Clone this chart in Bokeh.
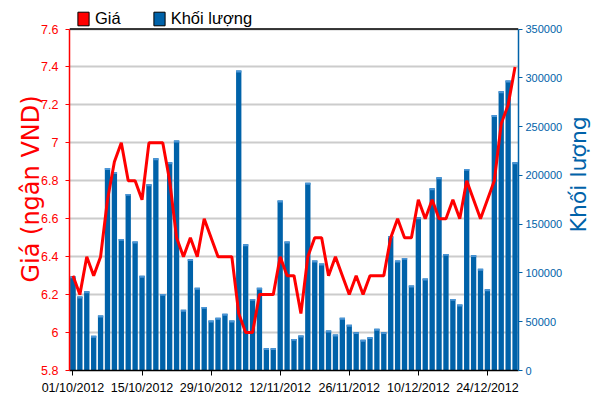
import math
import pandas as pd
from bokeh.plotting import figure
from bokeh.layouts import row
from bokeh.models import (Range1d, LinearAxis, FixedTicker, NumeralTickFormatter,
                          Legend, LegendItem, Span, ColumnDataSource, CDSView,
                          IndexFilter, Label)
from bokeh.embed import file_html
from bokeh.resources import INLINE

# ---- data ----
dates = [d.strftime("%d/%m/%Y") for d in pd.bdate_range("2012-10-01", "2012-12-28")]

price = [6.3, 6.2, 6.4, 6.3, 6.4, 6.7, 6.9, 7.0, 6.8, 6.8,
         6.7, 7.0, 7.0, 7.0, 6.8, 6.5, 6.4, 6.5, 6.4, 6.6,
         6.5, 6.4, 6.4, 6.4, 6.1, 6.0, 6.0, 6.2, 6.2, 6.2,
         6.4, 6.3, 6.3, 6.1, 6.4, 6.5, 6.5, 6.3, 6.4, 6.3,
         6.2, 6.3, 6.2, 6.3, 6.3, 6.3, 6.5, 6.6, 6.5, 6.5,
         6.7, 6.6, 6.7, 6.6, 6.6, 6.7, 6.6, 6.8, 6.7, 6.6,
         6.7, 6.8, 7.1, 7.2, 7.4]

volume = [96600, 75800, 81300, 35500, 56300, 207600, 203500, 134900, 181000, 132200,
          97000, 190900, 217500, 78500, 213400, 235600, 62200, 114100, 84700, 65200,
          51200, 54000, 58100, 51200, 307400, 129400, 73400, 84700, 22900, 22900,
          174200, 132200, 32400, 35900, 192300, 112700, 109600, 41000, 36900, 54000,
          46800, 39300, 31400, 34200, 42700, 39300, 137600, 112700, 115400, 87100,
          157100, 94300, 186800, 198100, 119500, 73400, 67600, 206600, 118200, 104200,
          83300, 261900, 286200, 297100, 213400]

tick_labels = ["01/10/2012", "15/10/2012", "29/10/2012", "12/11/2012",
               "26/11/2012", "10/12/2012", "24/12/2012"]
price_ticks = [5.8, 6.0, 6.2, 6.4, 6.6, 6.8, 7.0, 7.2, 7.4, 7.6]
volume_ticks = [0, 50000, 100000, 150000, 200000, 250000, 300000, 350000]

# ---- styling / layout ----
RED = "#ff0000"
BLUE = "#0062a9"
LIGHT = "#4a95d6"
FONT = "Liberation Sans"
TITLE_FONT = "DejaVu Sans"

W_MAIN, W_SIDE, H = 565, 43, 397
B_LEFT, B_RIGHT, B_TOP, B_BOTTOM = 69, 45, 7, 27
TOP_GAP = 21.5                     # px between frame top and the 7.6 line
FRAME_H = H - B_TOP - B_BOTTOM
PLOT_H = FRAME_H - TOP_GAP
LEGEND_TOP = 1                     # px below frame top
LEGEND_H = 19.5

p_lo, p_hi = price_ticks[0], price_ticks[-1]
v_lo, v_hi = volume_ticks[0], volume_ticks[-1]
p_top = p_hi + (p_hi - p_lo) * TOP_GAP / PLOT_H
v_top = v_hi + (v_hi - v_lo) * TOP_GAP / PLOT_H

idx = list(range(len(dates)))
tick_idx = [dates.index(t) for t in tick_labels]
cap_bottom = [v - 2000 for v in volume]

src = ColumnDataSource(dict(x=idx, price=price, volume=volume, cap=cap_bottom))

p = figure(width=W_MAIN, height=H, output_backend="svg", toolbar_location=None,
           x_range=Range1d(-0.5, len(dates) - 0.5), y_range=Range1d(p_lo, p_top),
           min_border_left=B_LEFT, min_border_right=B_RIGHT, min_border_top=B_TOP,
           min_border_bottom=B_BOTTOM)
p.title.visible = False
p.extra_y_ranges = {"vol": Range1d(v_lo, v_top)}
p.background_fill_color = "white"
p.border_fill_color = "white"
p.outline_line_color = None

p.xgrid.visible = False
p.ygrid.ticker = FixedTicker(ticks=price_ticks)
p.ygrid.grid_line_color = "#cccccc"
p.ygrid.grid_line_width = 2

# legend proxies: one bar each, drawn underneath the first volume bar
first = CDSView(filter=IndexFilter(indices=[0]))
leg_r = p.vbar(x="x", top="cap", bottom=0, width=0.5, source=src, view=first,
               y_range_name="vol", fill_color=RED, line_color="black", line_width=1)
leg_b = p.vbar(x="x", top="cap", bottom=0, width=0.5, source=src, view=first,
               y_range_name="vol", fill_color=BLUE, line_color="black", line_width=1)

# bars
p.vbar(x="x", top="volume", bottom=0, width=0.77, y_range_name="vol",
       fill_color=BLUE, line_color=None, source=src)
p.vbar(x="x", top="volume", bottom="cap", width=0.77, y_range_name="vol",
       fill_color=LIGHT, line_color=None, source=src)
# price line
p.line(x="x", y="price", line_color=RED, line_width=3, source=src)

# top border of the plot area
p.add_layout(Span(location=p_hi, dimension="width", line_color="black", line_width=1.5))

legend = Legend(items=[LegendItem(label="Giá", renderers=[leg_r]),
                       LegendItem(label="Khối lượng", renderers=[leg_b])],
                orientation="horizontal",
                location=(7, FRAME_H - LEGEND_TOP - LEGEND_H),
                glyph_width=14, glyph_height=17, label_standoff=5, spacing=31,
                padding=0, margin=0, label_height=14,
                label_text_font=FONT, label_text_font_size="16.5px",
                label_text_color="black", border_line_color=None,
                background_fill_alpha=0)
p.add_layout(legend, "center")

# x axis
xa = p.xaxis[0]
xa.ticker = FixedTicker(ticks=tick_idx)
xa.major_label_overrides = {i: dates[i] for i in tick_idx}
xa.axis_line_color = "black"
xa.axis_line_width = 1.5
xa.major_tick_line_color = "black"
xa.major_tick_out = 5
xa.major_tick_in = 0
xa.minor_tick_line_color = None
xa.major_label_text_font = FONT
xa.major_label_text_font_size = "12.5px"
xa.major_label_text_color = "black"
xa.major_label_standoff = 5

# left axis
ya = p.yaxis[0]
ya.ticker = FixedTicker(ticks=price_ticks)
ya.bounds = (p_lo, p_hi)
ya.formatter = NumeralTickFormatter(format="0.[0]")
ya.axis_line_color = RED
ya.axis_line_width = 1.5
ya.major_tick_line_color = RED
ya.major_tick_out = 4
ya.major_tick_in = 0
ya.minor_tick_line_color = None
ya.major_label_text_font = FONT
ya.major_label_text_font_size = "12.5px"
ya.major_label_text_color = RED
ya.major_label_standoff = 7
ya.axis_label = "Giá (ngân VND)"
ya.axis_label_text_font = TITLE_FONT
ya.axis_label_text_font_size = "24px"
ya.axis_label_text_font_style = "normal"
ya.axis_label_text_color = RED
ya.axis_label_standoff = -7

# right axis
ra = LinearAxis(y_range_name="vol")
ra.ticker = FixedTicker(ticks=volume_ticks)
ra.bounds = (v_lo, v_hi)
ra.formatter = NumeralTickFormatter(format="0")
ra.axis_line_color = BLUE
ra.axis_line_width = 1.5
ra.major_tick_line_color = BLUE
ra.major_tick_out = 4
ra.major_tick_in = 0
ra.minor_tick_line_color = None
ra.major_label_text_font = FONT
ra.major_label_text_font_size = "11px"
ra.major_label_text_color = BLUE
ra.major_label_standoff = 3
p.add_layout(ra, "right")

# right-hand strip holding the volume axis title (reads bottom-to-top)
side = figure(width=W_SIDE, height=H, output_backend="svg", toolbar_location=None,
              x_range=Range1d(0, W_SIDE), y_range=Range1d(0, H),
              x_axis_type=None, y_axis_type=None, min_border=0)
side.title.visible = False
side.outline_line_color = None
side.background_fill_color = "white"
side.border_fill_color = "white"
side.add_layout(Label(x=12.5, y=H - 182.5, text="Khối lượng", angle=math.pi / 2,
                      text_align="center", text_baseline="alphabetic",
                      text_font=TITLE_FONT, text_font_size="22px", text_color=BLUE))

layout = row(p, side, spacing=0)
open("out.html", "w").write(file_html(layout, INLINE))
